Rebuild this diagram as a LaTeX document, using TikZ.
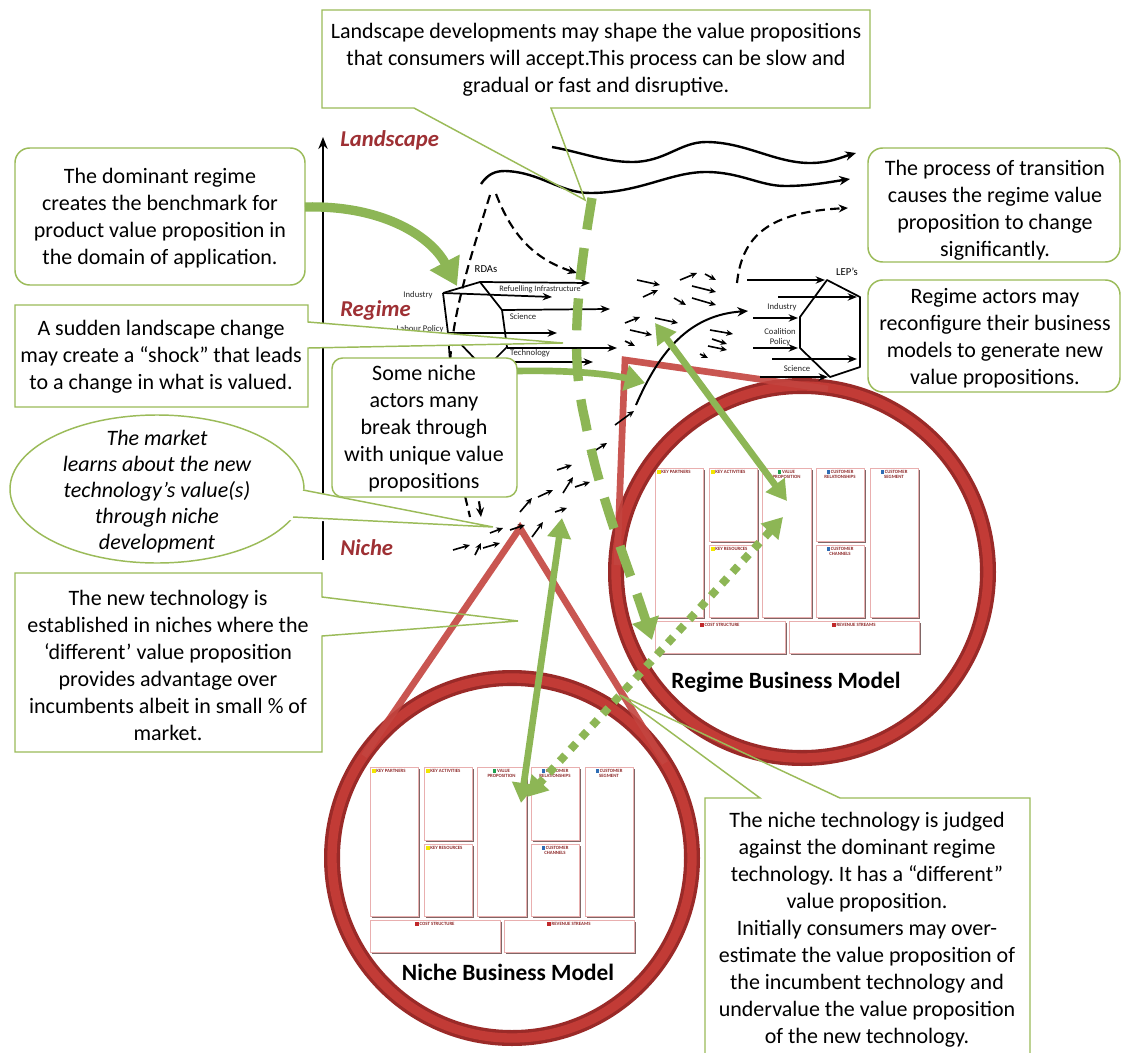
\documentclass[tikz,border=0pt]{standalone}
\usepackage{fontspec}
\setmainfont{Carlito}
\usetikzlibrary{arrows.meta}
\frenchspacing
\definecolor{cgreen}{HTML}{9BBB59}
\definecolor{ggreen}{HTML}{8DB655}
\definecolor{ringred}{HTML}{C23B36}
\definecolor{ringdark}{HTML}{9A2A28}
\definecolor{conered}{HTML}{C4443F}
\definecolor{lblred}{HTML}{9E3034}
\definecolor{bmtext}{HTML}{8E2B2B}
\definecolor{bmpink}{HTML}{E9AFAF}
\definecolor{bmshadow}{HTML}{806666}
\definecolor{sqyellow}{HTML}{F2E600}
\definecolor{sqgreen}{HTML}{1FA050}
\definecolor{sqblue}{HTML}{2F6DB5}
\definecolor{sqred}{HTML}{C0282A}
\newcommand\BMsq[1]{\textcolor{#1}{\rule{2.6pt}{2.6pt}}\,}
\newcommand\BMcell[4]{%
  \fill[bmshadow] (#1+1.5,#2+1.5) rectangle (#3+1.5,#4+1.5);
  \draw[bmpink, fill=white, line width=0.5pt] (#1,#2) rectangle (#3,#4);}
\newcommand\BMcanvas[1]{%
 \BMcell{0}{0}{48}{149}\node[bml,anchor=north west] (#1kp) at (1.5,1.5) {\BMsq{sqyellow}KEY PARTNERS};
 \BMcell{54}{0}{102}{73}\node[bml,anchor=north west] (#1ka) at (55.5,1.5) {\BMsq{sqyellow}KEY ACTIVITIES};
 \BMcell{54}{77}{102}{149}\node[bml,anchor=north west] (#1kr) at (55.5,78.5) {\BMsq{sqyellow}KEY RESOURCES};
 \BMcell{107}{0}{156}{149}\node[bml,anchor=north] (#1vp) at (131.5,1.5) {\BMsq{sqgreen}VALUE\\PROPOSITION};
 \BMcell{161}{0}{209}{73}\node[bml,anchor=north] (#1cr) at (185,1.5) {\BMsq{sqblue}CUSTOMER\\RELATIONSHIPS};
 \BMcell{161}{77}{209}{149}\node[bml,anchor=north] (#1cc) at (185,78.5) {\BMsq{sqblue}CUSTOMER\\CHANNELS};
 \BMcell{215}{0}{263}{149}\node[bml,anchor=north] (#1cs) at (239,1.5) {\BMsq{sqblue}CUSTOMER\\SEGMENT};
 \BMcell{0}{153}{130}{185}\node[bml,anchor=north] (#1co) at (65,154.5) {\BMsq{sqred}COST STRUCTURE};
 \BMcell{134}{153}{264}{185}\node[bml,anchor=north] (#1re) at (199,154.5) {\BMsq{sqred}REVENUE STREAMS};
}
\begin{document}
\begin{tikzpicture}[x=0.75pt,y=-0.75pt,
  txt/.style={font=\fontsize{16.5}{20.25}\selectfont, align=center, inner sep=0pt, text=black},
  callout/.style={draw=cgreen, line width=1.1pt},
  lvl/.style={font=\fontsize{17}{19}\selectfont\bfseries\itshape, text=lblred, anchor=west, inner sep=0pt},
  tiny/.style={font=\fontsize{6.5}{7}\selectfont, inner sep=0pt, text=black!85},
  small/.style={font=\fontsize{8}{9}\selectfont, inner sep=0pt},
  bml/.style={font=\fontsize{3.6}{4}\selectfont\bfseries, text=bmtext, align=center, inner sep=0.3pt},
  bmtitle/.style={font=\fontsize{17.5}{20}\selectfont\bfseries, inner sep=0pt},
  rarrow/.style={line width=1.3pt, -{Stealth[length=7pt,width=5.5pt]}},
  sarrow/.style={line width=1.2pt, -{Stealth[length=5pt,width=4.5pt]}},
  wave/.style={line width=1.8pt, -{Stealth[length=8pt,width=7pt]}},
  bdash/.style={line width=1.6pt, dash pattern=on 7pt off 4pt, -{Stealth[length=7pt,width=6pt]}},
  bdashn/.style={line width=1.6pt, dash pattern=on 7pt off 4pt},
  gthick/.style={draw=ggreen, line width=5pt, -{Triangle[length=15pt,width=19pt]}},
  gbig/.style={draw=ggreen, line width=7pt, -{Triangle[length=20pt,width=24pt]}},
  gboth/.style={draw=ggreen, line width=5pt, {Triangle[length=15pt,width=17pt]}-{Triangle[length=15pt,width=17pt]}},
  gdots/.style={draw=ggreen, line width=6pt, dash pattern=on 6pt off 6pt, {Triangle[length=15pt,width=17pt]}-{Triangle[length=15pt,width=17pt]}},
  gdash/.style={draw=ggreen, line width=7pt, dash pattern=on 24pt off 14pt, -{Triangle[length=16pt,width=20pt]}},
  cone/.style={draw=conered, opacity=0.9, line width=5pt},
]
\useasboundingbox (0,0) rectangle (1129,1053);
\fill[white] (0,0) rectangle (1129,1053);

% ---------- business model canvases ----------
\begin{scope}[shift={(655,468)}]
 \BMcanvas{r}
\end{scope}
\begin{scope}[shift={(370,767)}]
 \BMcanvas{n}
\end{scope}
\node[bmtitle] (rtitle) at (786,682) {Regime Business Model};
\node[bmtitle] (ntitle) at (508,972) {Niche Business Model};

% ---------- rings and cones ----------
\draw[ringdark, line width=12pt] (802,572) circle[radius=186];
\draw[ringred, line width=7pt] (802,572) circle[radius=186];
\draw[ringdark, line width=12pt] (512,858) circle[radius=180];
\draw[ringred, line width=7pt] (512,858) circle[radius=180];
\draw[cone] (617,565) -- (625,360) -- (828,389);
\draw[cone] (364,756) -- (520,528) -- (665,763);

% ---------- axis and level labels ----------
\draw[line width=1.5pt, -{Stealth[length=9pt,width=7pt]}] (323,560) -- (323,137);
\node[lvl] (lland) at (340,140) {Landscape};
\node[lvl] (lreg) at (340,310) {Regime};
\node[lvl] (lniche) at (340,548) {Niche};

% ---------- landscape waves ----------
\draw[wave] (552,147) .. controls (580,152) and (605,162) .. (632,162)
  .. controls (665,162) and (680,142) .. (706,142)
  .. controls (745,142) and (775,163) .. (810,163)
  .. controls (830,163) and (842,157) .. (856,153);
\draw[wave] (481,184) .. controls (488,174) and (495,171) .. (505,171)
  .. controls (540,172) and (560,193) .. (590,193)
  .. controls (640,193) and (670,172) .. (706,172)
  .. controls (740,172) and (760,186) .. (785,186)
  .. controls (810,186) and (830,182) .. (850,179);
% dashed
\draw[bdash] (496,194) .. controls (510,230) and (530,258) .. (577,273);
\draw[bdashn] (490,195) .. controls (470,260) and (445,330) .. (450,400) .. controls (455,460) and (465,495) .. (470,517);
\draw[bdash] (462,430) .. controls (470,460) and (478,490) .. (481,517);
\draw[bdash] (737,283) .. controls (742,235) and (770,212) .. (848,208);

% ---------- regime structure left ----------
\draw[line width=1.3pt, line join=round] (443,293) -- (480,282) -- (502,310) -- (507,347) -- (490,364);
\draw[line width=1.3pt, line join=round] (443,293) -- (448,333) -- (450,362);
\draw[line width=1.3pt] (455,338) -- (476,360);
\draw[rarrow] (480,282) -- (590,283);
\draw[rarrow] (443,293) -- (552,297);
\draw[rarrow] (502,310) -- (610,309);
\draw[rarrow] (448,333) -- (557,333);
\draw[rarrow] (507,348) -- (617,348);
\draw[rarrow] (500,362) -- (593,362);
\node[small] (rdas) at (486,269) {RDAs};
\node[tiny] (rind) at (418,295) {Industry};
\node[tiny, font=\fontsize{6.2}{7}\selectfont] (rref) at (540,289) {Refuelling Infrastructure};
\node[tiny] (rsci) at (523,317) {Science};
\node[tiny] (rlab) at (420,329) {Labour Policy};
\node[tiny] (rtec) at (530,353) {Technology};

% ---------- regime structure right ----------
\draw[line width=1.3pt, line join=round] (827,280) -- (860,297) -- (860,367) -- (830,377) -- (800,348) -- (800,317) -- cycle;
\draw[rarrow] (747,280) -- (825,280);
\draw[rarrow] (778,297) -- (857,297);
\draw[rarrow] (753,318) -- (798,318);
\draw[rarrow] (753,348) -- (798,348);
\draw[rarrow] (772,359) -- (857,359);
\draw[rarrow] (760,377) -- (828,377);
\node[small] (leps) at (847,272) {LEP’s};
\node[tiny] (lind) at (782,307) {Industry};
\node[tiny] (lcoa) at (780,332) {Coalition};
\node[tiny] (lpol) at (780,342) {Policy};
\node[tiny] (lsci) at (797,369) {Science};

% ---------- solid transition curve ----------
\draw[wave, line width=1.5pt] (636,405) .. controls (660,350) and (690,315) .. (748,311);

% ---------- small arrows regime ----------
\draw[sarrow] (637,280) -- (660,285);
\draw[sarrow] (643,297) -- (658,290);
\draw[sarrow] (680,280) -- (697,273);
\draw[sarrow] (705,274) -- (716,280);
\draw[sarrow] (692,286) -- (716,292);
\draw[sarrow] (692,298) -- (716,305);
\draw[sarrow] (674,298) -- (686,305);
\draw[sarrow] (625,323) -- (640,317);
\draw[sarrow] (655,318) -- (678,323);
\draw[sarrow] (630,330) -- (652,335);
\draw[sarrow] (625,341) -- (635,346);
\draw[sarrow] (710,330) -- (733,334);
\draw[sarrow] (712,339) -- (727,344);
\draw[sarrow] (708,346) -- (727,350);
\draw[sarrow] (700,354) -- (708,358);
% ---------- small arrows niche ----------
\draw[sarrow] (453,550) -- (470,545);
\draw[sarrow] (475,555) -- (481,543);
\draw[sarrow] (483,548) -- (500,543);
\draw[sarrow] (490,533) -- (503,528);
\draw[sarrow] (510,530) -- (525,525);
\draw[sarrow] (532,537) -- (543,522);
\draw[sarrow] (520,512) -- (532,498);
\draw[sarrow] (538,497) -- (553,490);
\draw[sarrow] (563,493) -- (573,477);
\draw[sarrow] (575,487) -- (590,482);
\draw[sarrow] (555,512) -- (567,508);
\draw[sarrow] (557,470) -- (572,465);
\draw[sarrow] (588,455) -- (607,443);
\draw[sarrow] (615,425) -- (634,411);

% ---------- callouts ----------
% top
\draw[callout] (414,108) -- (322,108) -- (322,10) -- (870,10) -- (870,108) -- (551,108) -- (585,200) -- cycle;
\node[txt] (ctop) at (596,60) {Landscape developments may shape the value propositions\\that consumers will accept.This process can be slow and\\gradual or fast and disruptive.};
% c1
\draw[callout, fill=white, rounded corners=11pt] (15,148) rectangle (305,285);
\node[txt] (c1t) at (160,218) {The dominant regime\\creates the benchmark for\\product value proposition in\\the domain of application.};
% c2
\draw[callout, fill=white] (15,305) -- (308,305) -- (308,322) -- (563,343) -- (308,348) -- (308,407) -- (15,407) -- cycle;
\node[txt] (c2t) at (161,357) {A sudden landscape change\\may create a “shock” that leads\\to a change in what is valued.};
% c3
\draw[callout, fill=white, rounded corners=8pt] (332,358) rectangle (517,497);
\node[txt] (c3t) at (424,429) {Some niche\\actors many\\break through\\with unique value\\propositions};
% c4 ellipse
\draw[callout, fill=white] (157,489) ellipse [x radius=147, y radius=74];
\fill[white] (296,488) -- (493,527) -- (288,520) -- cycle;
\draw[callout] (303,490) -- (493,527) -- (293,517);
\node[txt, font=\fontsize{16.5}{19.5}\selectfont\itshape] (c4t) at (157,492) {The market\\learns about the new\\technology’s value(s)\\through niche\\development};
% c5
\fill[white] (15,573) rectangle (322,752);
\draw[callout] (322,597) -- (518,621) -- (322,636) -- (322,752) -- (15,752) -- (15,573) -- (322,573) -- cycle;
\node[txt] (c5t) at (168,665) {The new technology is\\established in niches where the\\‘different’ value proposition\\provides advantage over\\incumbents albeit in small \% of\\market.};
% right A, B
\draw[callout, fill=white, rounded corners=11pt] (868,148) rectangle (1120,262);
\node[txt] (cat) at (995,210) {The process of transition\\causes the regime value\\proposition to change\\significantly.};
\draw[callout, fill=white, rounded corners=11pt] (868,280) rectangle (1120,392);
\node[txt] (cbt) at (995,338) {Regime actors may\\reconfigure their business\\models to generate new\\value propositions.};
% bottom right
\fill[white] (705,798) rectangle (1030,1060);
\draw[callout] (705,1060) -- (705,798) -- (760,798) -- (620,695) -- (840,798) -- (1030,798) -- (1030,1060);
\node[txt] (cbrt) at (867,930) {The niche technology is judged\\against the dominant regime\\technology. It has a “different”\\value proposition.\\Initially consumers may over-\\estimate the value proposition of\\the incumbent technology and\\undervalue the value proposition\\of the new technology.};

% ---------- green arrows ----------
\draw[gdash] (592,198) .. controls (580,270) and (568,350) .. (585,420) .. controls (600,500) and (628,565) .. (652,640);
\draw[gbig] (305,207) .. controls (385,205) and (432,238) .. (457,286);
\draw[gthick] (517,371) .. controls (570,370) and (610,374) .. (645,383);
\draw[gboth] (655,323) -- (787,501);
\draw[gboth] (562,518) -- (521,803);
\draw[gdots] (783,517) -- (527,797);
\end{tikzpicture}
\end{document}
